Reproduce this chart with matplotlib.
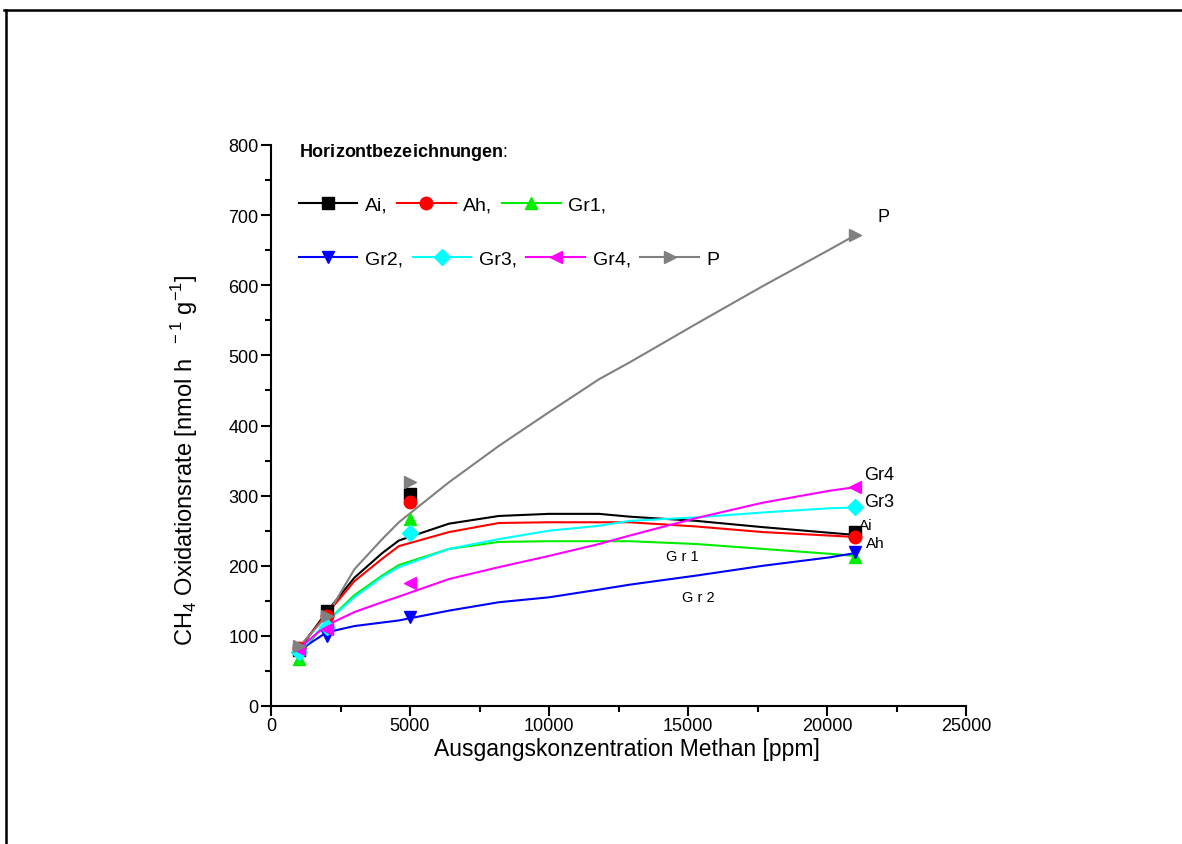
import numpy as np
import matplotlib as mpl
import matplotlib.pyplot as plt
from matplotlib.lines import Line2D
from matplotlib.ticker import MultipleLocator

# measured points (ppm -> nmol h-1 g-1)
conc = [1000, 2000, 5000, 21000]
rate_ai = [80, 135, 302, 248]
rate_ah = [82, 129, 291, 241]
rate_gr1 = [67, 118, 267, 212]
rate_gr2 = [74, 100, 127, 220]
rate_gr3 = [77, 113, 247, 284]
rate_gr4 = [81, 110, 175, 313]
rate_p = [86, 128, 320, 672]

# fitted curves at these concentrations
fit_x = [1000, 2000, 3000, 4000, 4600, 6400, 8200, 10000, 11800, 12900, 15300, 17700, 20100, 21000]
fit_ai = [80, 134, 183, 218, 236, 260, 271, 274, 274, 270, 264, 255, 247, 244]
fit_ah = [82, 131, 178, 210, 228, 248, 261, 262, 262, 262, 256, 248, 243, 241]
fit_gr1 = [72, 120, 158, 186, 201, 224, 234, 235, 235, 235, 231, 224, 217, 214]
fit_gr2 = [79, 105, 114, 119, 122, 136, 148, 155, 166, 173, 186, 200, 212, 218]
fit_gr3 = [76, 120, 155, 184, 198, 224, 238, 250, 257, 264, 269, 276, 282, 283]
fit_gr4 = [82, 115, 134, 148, 156, 181, 198, 214, 231, 243, 268, 290, 307, 312]
fit_p = [84, 128, 195, 238, 262, 319, 371, 419, 466, 490, 545, 599, 651, 671]

names = ["Ai", "Ah", "Gr1", "Gr2", "Gr3", "Gr4", "P"]
colors = ["black", "red", "#00ee00", "blue", "cyan", "magenta", "gray"]
markers = ["s", "o", "^", "v", "D", "<", ">"]

mpl.rcParams["font.family"] = ["Liberation Sans", "DejaVu Sans"]
mpl.rcParams["mathtext.fontset"] = "custom"
mpl.rcParams["mathtext.rm"] = "Liberation Sans"
mpl.rcParams["mathtext.bf"] = "Liberation Sans:bold"

fig = plt.figure(figsize=(11.82, 8.45), dpi=100)
ax = fig.add_axes([271 / 1182, 138 / 845, 695 / 1182, 561 / 845])

measured = [rate_ai, rate_ah, rate_gr1, rate_gr2, rate_gr3, rate_gr4, rate_p]
fitted = [fit_ai, fit_ah, fit_gr1, fit_gr2, fit_gr3, fit_gr4, fit_p]
handles = []
for name, col, mk, ys, fy in zip(names, colors, markers, measured, fitted):
    ax.plot(fit_x, fy, color=col, lw=1.5, zorder=2)
    ms = 8 if mk == "D" else 9
    ax.plot(conc, ys, linestyle="none", marker=mk, color=col, ms=ms, zorder=3)
    handles.append(Line2D([], [], color=col, lw=1.5, marker=mk, ms=ms))

ax.set_xlim(0, 25000)
ax.set_ylim(0, 800)
ax.xaxis.set_major_locator(MultipleLocator(5000))
ax.xaxis.set_minor_locator(MultipleLocator(2500))
ax.yaxis.set_major_locator(MultipleLocator(100))
ax.yaxis.set_minor_locator(MultipleLocator(50))
ax.tick_params(which="major", direction="out", length=7, width=1.5, labelsize=13)
ax.tick_params(which="minor", direction="out", length=4, width=1.5)
ax.tick_params(axis="x", which="major", pad=1)
ax.tick_params(axis="y", which="major", pad=2)
for side in ("top", "right"):
    ax.spines[side].set_visible(False)
for side in ("left", "bottom"):
    ax.spines[side].set_linewidth(1.5)

ax.set_xlabel("Ausgangskonzentration Methan [ppm]", fontsize=16.5)
ax.xaxis.set_label_coords(0.512, -0.056)
ax.set_ylabel(r"CH$_4$ Oxidationsrate [nmol h $^{\ -1}$ g$^{-1}$]", fontsize=17)
ax.yaxis.set_label_coords(-0.102, 0.44)

# legend: bold title, two rows of entries
ax.text(0.041, 0.988, r"$\mathbf{Horizontbezeichnungen}$:", transform=ax.transAxes,
        fontsize=13, va="center", ha="left")
lab = [n + "," for n in names[:-1]] + [names[-1]]
leg_kw = dict(frameon=False, fontsize=14, handlelength=3.0, handletextpad=0.4,
              columnspacing=0.5, borderpad=0, borderaxespad=0)
leg1 = ax.legend(handles[:3], lab[:3], loc="center left", bbox_to_anchor=(0.040, 0.893),
                 ncol=3, **leg_kw)
ax.add_artist(leg1)
ax.legend(handles[3:], lab[3:], loc="center left", bbox_to_anchor=(0.040, 0.797),
          ncol=4, **leg_kw)

# curve labels
ax.text(21800, 698, "P", fontsize=13, ha="left", va="center")
ax.text(21350, 330, "Gr4", fontsize=13, ha="left", va="center")
ax.text(21350, 291, "Gr3", fontsize=13, ha="left", va="center")
ax.text(21150, 258, "Ai", fontsize=11, ha="left", va="center")
ax.text(21400, 232, "Ah", fontsize=11, ha="left", va="center")
ax.text(14200, 214, "G r 1", fontsize=10.5, ha="left", va="center")
ax.text(14800, 155, "G r 2", fontsize=10.5, ha="left", va="center")

# page frame (top and left edges)
fig.add_artist(Line2D([4 / 1182, 1], [1 - 11 / 845, 1 - 11 / 845], color="black", lw=1.8,
                      transform=fig.transFigure))
fig.add_artist(Line2D([6 / 1182, 6 / 1182], [0, 1 - 11 / 845], color="black", lw=1.8,
                      transform=fig.transFigure))

fig.savefig("out.png", dpi=100)
